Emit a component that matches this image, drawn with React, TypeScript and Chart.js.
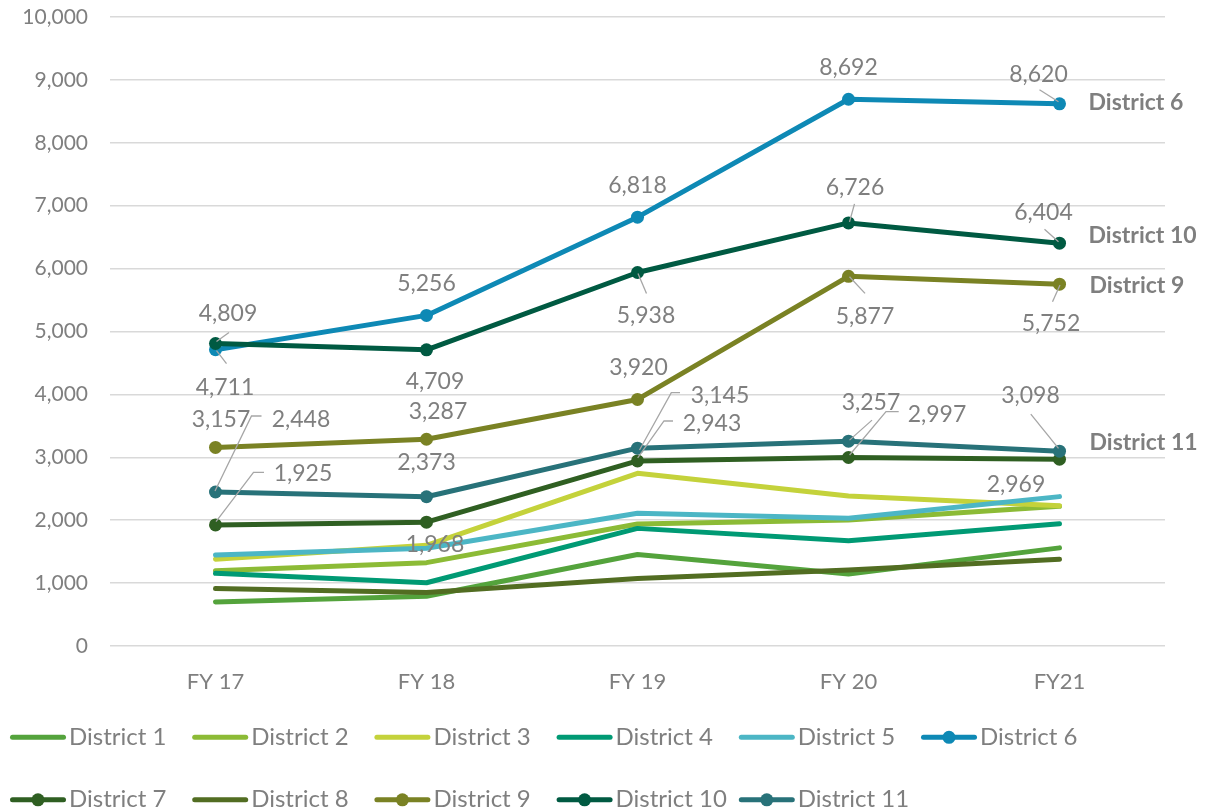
import React, { useEffect, useRef } from 'react';
import { Chart, registerables } from 'chart.js';

Chart.register(...registerables);

// ---------- data ----------
const categories = ['FY 17', 'FY 18', 'FY 19', 'FY 20', 'FY21'];
const seriesNames = [
  'District 1', 'District 2', 'District 3', 'District 4', 'District 5', 'District 6',
  'District 7', 'District 8', 'District 9', 'District 10', 'District 11',
];
const district1 = [700, 790, 1455, 1145, 1560];
const district2 = [1195, 1325, 1940, 2005, 2220];
const district3 = [1380, 1600, 2745, 2385, 2230];
const district4 = [1155, 1005, 1870, 1675, 1945];
const district5 = [1445, 1555, 2110, 2030, 2375];
const district6 = [4711, 5256, 6818, 8692, 8620];
const district7 = [1925, 1968, 2943, 2997, 2969];
const district8 = [915, 850, 1075, 1210, 1380];
const district9 = [3157, 3287, 3920, 5877, 5752];
const district10 = [4809, 4709, 5938, 6726, 6404];
const district11 = [2448, 2373, 3145, 3257, 3098];
const seriesValues = [
  district1, district2, district3, district4, district5, district6,
  district7, district8, district9, district10, district11,
];
const yMin = 0;
const yMax = 10000;
const yStep = 1000;

// ---------- styles ----------
const seriesColors = [
  '#54A33C', '#8CBB36', '#C4D23B', '#009A74', '#4CB6C5', '#0E89B5',
  '#2F5F22', '#526D22', '#7A8224', '#005A42', '#287279',
];
const hasMarkers = [false, false, false, false, false, true, true, false, true, true, true];
const FONT = 'Lato';
const TEXT_GRAY = '#7F7F7F';
const LEADER_GRAY = '#A6A6A6';

// label placement (pixel offsets relative to each point)
type Spec = { dx: number; dy: number; leader?: number[][] };
const labelSpecs: Record<number, Spec[]> = {
  5: [
    { dx: 9.5, dy: 36.8, leader: [[11, 14], [1, 1]] },
    { dx: 0, dy: -33 },
    { dx: 0, dy: -32 },
    { dx: 0, dy: -32.6 },
    { dx: -21, dy: -30.5, leader: [[-20, -14], [-1, -2]] },
  ],
  9: [
    { dx: 12.5, dy: -30.5, leader: [[13.5, -11], [1, -2]] },
    { dx: 8.5, dy: 31 },
    { dx: 8.5, dy: 42.5, leader: [[9, 21], [0.5, 1]] },
    { dx: 6.5, dy: -36, leader: [[6, -19], [1, -1]] },
    { dx: -16, dy: -31.5, leader: [[-15, -14], [-1, -1.5]] },
  ],
  8: [
    { dx: 5.5, dy: -28.4 },
    { dx: 11.5, dy: -28.7 },
    { dx: 1, dy: -32.7 },
    { dx: 16.5, dy: 39, leader: [[16.5, 17], [1, 0.4]] },
    { dx: -8.5, dy: 39, leader: [[-7, 17.5], [0.5, 0.8]] },
  ],
  10: [
    { dx: 85.5, dy: -73, leader: [[46, -76], [36, -76], [-0.5, -1]] },
    { dx: 0, dy: -34.7 },
    { dx: 82.5, dy: -53, leader: [[42.5, -55.5], [33.8, -55.5], [2, 1.8]] },
    { dx: 22.5, dy: -39.4, leader: [[23.5, -21], [1, -1]] },
    { dx: -29, dy: -56, leader: [[-28.7, -37], [-1, -2.8]] },
  ],
  6: [
    { dx: 87.5, dy: -52, leader: [[48.5, -52.6], [38, -52.6], [0.5, -3.2]] },
    { dx: 8.5, dy: 21.8 },
    { dx: 74.5, dy: -38.4, leader: [[35.5, -39.9], [26.5, -39.9], [0.2, -2.9]] },
    { dx: 88.5, dy: -43.8, leader: [[50.2, -45.8], [37.5, -45.8], [1.1, -2.5]] },
    { dx: -43.5, dy: 24.7 },
  ],
};
const seriesNameSpecs: Record<number, { dx: number; dy: number }> = {
  5: { dx: 29, dy: -2 },
  9: { dx: 29, dy: -8 },
  8: { dx: 30, dy: 1 },
  10: { dx: 30, dy: -9.5 },
};

const fmt = (v: number) => v.toLocaleString('en-US');

const dataLabelPlugin = {
  id: 'dataLabelPlugin',
  afterDatasetsDraw(chart: any) {
    const ctx = chart.ctx;
    ctx.save();
    // leaders
    ctx.strokeStyle = LEADER_GRAY;
    ctx.lineWidth = 1.3;
    Object.keys(labelSpecs).forEach((k) => {
      const di = Number(k);
      const meta = chart.getDatasetMeta(di);
      labelSpecs[di].forEach((s, j) => {
        const el = meta.data[j];
        if (!el || !s.leader) return;
        ctx.beginPath();
        s.leader.forEach((p, n) => {
          if (n === 0) ctx.moveTo(el.x + p[0], el.y + p[1]);
          else ctx.lineTo(el.x + p[0], el.y + p[1]);
        });
        ctx.stroke();
      });
    });
    // values
    const size = 23;
    ctx.font = `${size}px ${FONT}`;
    ctx.fillStyle = TEXT_GRAY;
    ctx.textAlign = 'center';
    ctx.textBaseline = 'alphabetic';
    Object.keys(labelSpecs).forEach((k) => {
      const di = Number(k);
      const meta = chart.getDatasetMeta(di);
      const vals = chart.data.datasets[di].data;
      labelSpecs[di].forEach((s, j) => {
        const el = meta.data[j];
        if (!el) return;
        ctx.fillText(fmt(vals[j]), el.x + s.dx, el.y + s.dy + 0.36 * size);
      });
    });
    // series names
    const bsize = 23;
    ctx.font = `bold ${bsize}px ${FONT}`;
    ctx.textAlign = 'left';
    Object.keys(seriesNameSpecs).forEach((k) => {
      const di = Number(k);
      const meta = chart.getDatasetMeta(di);
      const el = meta.data[meta.data.length - 1];
      const s = seriesNameSpecs[di];
      ctx.fillText(chart.data.datasets[di].label, el.x + s.dx, el.y + s.dy + 0.36 * bsize);
    });
    ctx.restore();
  },
};

const legendPlugin = {
  id: 'gridLegend',
  afterDraw(chart: any) {
    const ctx = chart.ctx;
    const size = 24;
    ctx.save();
    chart.data.datasets.forEach((ds: any, i: number) => {
      const col = i % 6;
      const row = Math.floor(i / 6);
      const x = 10 + col * 182.2;
      const lineY = 737.3 + row * 62.5;
      const textY = 736 + row * 62.5;
      ctx.strokeStyle = ds.borderColor;
      ctx.lineWidth = 5;
      ctx.lineCap = 'round';
      ctx.beginPath();
      ctx.moveTo(x + 2.5, lineY);
      ctx.lineTo(x + 53.5, lineY);
      ctx.stroke();
      if (hasMarkers[i]) {
        ctx.fillStyle = ds.borderColor;
        ctx.beginPath();
        ctx.arc(x + 28, lineY, 6.5, 0, Math.PI * 2);
        ctx.fill();
      }
      ctx.fillStyle = TEXT_GRAY;
      ctx.font = `${size}px ${FONT}`;
      ctx.textAlign = 'left';
      ctx.textBaseline = 'alphabetic';
      ctx.fillText(ds.label, x + 59, textY + 0.36 * size);
    });
    ctx.restore();
  },
};

export default function App() {
  const ref = useRef<HTMLCanvasElement | null>(null);
  useEffect(() => {
    document.body.style.margin = '0';
    const canvas = ref.current;
    if (!canvas) return;
    const datasets = seriesValues.map((vals, i) => ({
      label: seriesNames[i],
      data: vals,
      borderColor: seriesColors[i],
      backgroundColor: seriesColors[i],
      borderWidth: 5,
      pointRadius: hasMarkers[i] ? 6.5 : 0,
      pointBorderWidth: 0,
      pointBackgroundColor: seriesColors[i],
      pointHoverRadius: hasMarkers[i] ? 6.5 : 0,
      tension: 0,
      borderCapStyle: 'round' as const,
      borderJoinStyle: 'round' as const,
      order: seriesValues.length - i,
    }));
    const chart = new Chart(canvas, {
      type: 'line',
      data: { labels: categories, datasets },
      plugins: [dataLabelPlugin, legendPlugin],
      options: {
        responsive: false,
        animation: false,
        events: [],
        layout: { padding: { left: 0, right: 42, top: 17, bottom: 106 } },
        plugins: {
          legend: { display: false },
          tooltip: { enabled: false },
          title: { display: false },
        },
        scales: {
          x: {
            offset: true,
            grid: { display: false, drawTicks: false },
            border: { display: false },
            ticks: {
              color: TEXT_GRAY,
              font: { family: FONT, size: 22 },
              padding: 23,
              maxRotation: 0,
            },
            afterFit: (s: any) => {
              s.height = 60;
              s.paddingLeft = 0; s.paddingRight = 0; s.paddingTop = 0; s.paddingBottom = 0;
            },
          },
          y: {
            min: yMin,
            max: yMax,
            grid: { color: '#D9D9D9', lineWidth: 1.5, drawTicks: false },
            border: { display: false },
            ticks: {
              stepSize: yStep,
              color: TEXT_GRAY,
              font: { family: FONT, size: 21 },
              padding: 22,
              callback: (v: any) => fmt(Number(v)),
            },
            afterFit: (s: any) => {
              s.width = 110;
              s.paddingLeft = 0; s.paddingRight = 0; s.paddingTop = 0; s.paddingBottom = 0;
            },
          },
        },
      },
    });
    let alive = true;
    if ((document as any).fonts && (document as any).fonts.load) {
      Promise.all([
        (document as any).fonts.load(`22px ${FONT}`),
        (document as any).fonts.load(`bold 22px ${FONT}`),
      ]).then(() => { if (alive) chart.update(); }).catch(() => {});
    }
    return () => { alive = false; chart.destroy(); };
  }, []);
  return (
    <div style={{ width: 1207, height: 812, background: '#fff' }}>
      <canvas ref={ref} width={1207} height={812} style={{ display: 'block' }} />
    </div>
  );
}
